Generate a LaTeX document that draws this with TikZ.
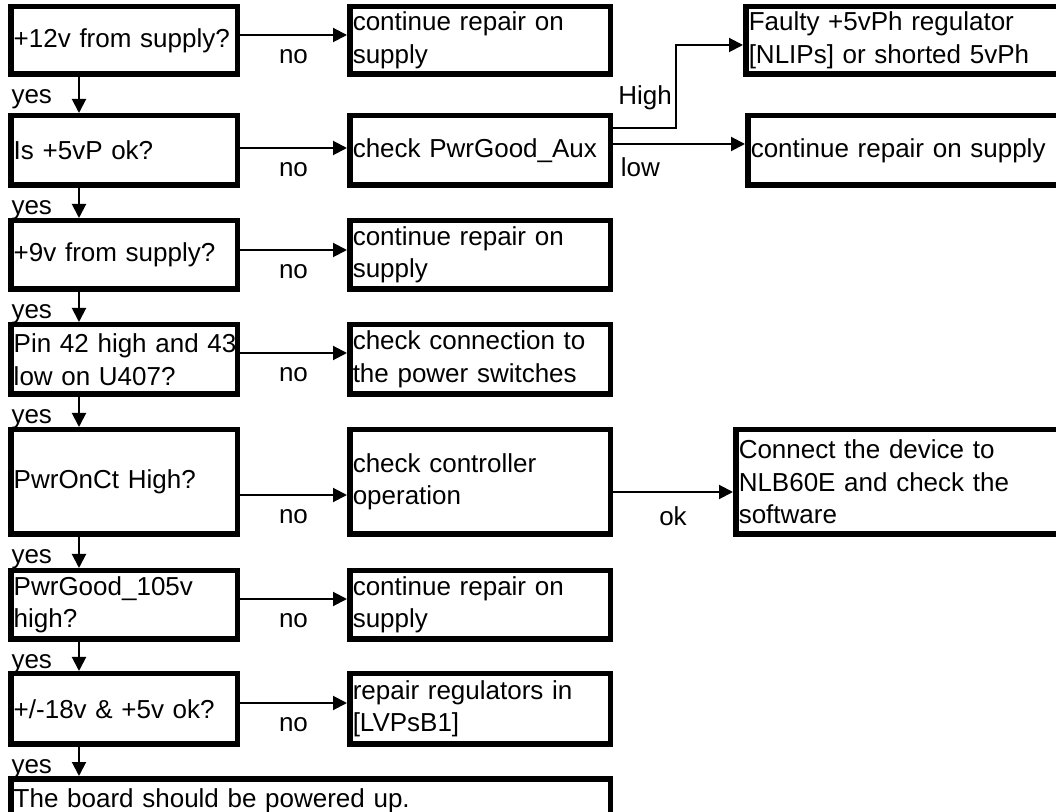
\documentclass[tikz,border=0pt]{standalone}
\usepackage{fontspec}
\setmainfont{Liberation Sans}
\usetikzlibrary{arrows.meta}

\tikzset{
    box/.style={rectangle, draw=black, line width=2.75pt, inner xsep=1.5pt, inner ysep=1pt, align=left, font=\fontsize{13}{16.25}\selectfont},
    lcol/.style={box, text width=110.25pt},
    mcol/.style={box, text width=127.25pt},
    rcol/.style={box, text width=169pt},
    arr/.style={line width=1pt, -{Triangle[length=7pt, width=7pt]}},
    lbl/.style={inner sep=0pt, font=\fontsize{13}{16.25}\selectfont},
    nolbl/.style={lbl, midway, below=7pt},
    yeslbl/.style={lbl, pos=0, anchor=north east, xshift=-13pt, yshift=-6pt}
}

\begin{document}
\begin{tikzpicture}[x=0.5pt, y=-0.5pt]
    \useasboundingbox (0,0) rectangle (1056,812);
    \clip (0,0) rectangle (1056,812);

    % questions
    \node[lcol, minimum height=33.75pt] (L1) at (124, 40.5) {\mbox{+12v from supply?}};
    \node[lcol, minimum height=34.75pt] (L2) at (124,150.5) {Is +5vP ok?};
    \node[lcol, minimum height=34.25pt] (L3) at (124,255)   {+9v from supply?};
    \node[lcol, minimum height=34.75pt] (L4) at (124,359.5) {\mbox{Pin 42 high and 43}\\low on U407?};
    \node[lcol, minimum height=52.25pt] (L5) at (124,482)   {PwrOnCt High?};
    \node[lcol, minimum height=34.25pt] (L6) at (124,605)   {PwrGood\_105v\\high?};
    \node[lcol, minimum height=35.25pt] (L7) at (124,709)   {+/-18v \& +5v ok?};
    \node[box, text width=296.75pt, minimum height=22.25pt] (L8) at (310.5,801) {The board should be powered up.};

    % actions
    \node[mcol, minimum height=33.75pt] (M1) at (480, 40.5) {continue repair on\\supply};
    \node[mcol, minimum height=34.75pt] (M2) at (480,150.5) {check PwrGood\_Aux};
    \node[mcol, minimum height=34.25pt] (M3) at (480,255)   {continue repair on\\supply};
    \node[mcol, minimum height=34.75pt] (M4) at (480,359.5) {check connection to\\the power switches};
    \node[mcol, minimum height=52.25pt] (M5) at (480,482)   {check controller\\operation};
    \node[mcol, minimum height=34.25pt] (M6) at (480,605)   {continue repair on\\supply};
    \node[mcol, minimum height=35.25pt] (M7) at (480,709)   {repair regulators in\\{}[LVPsB1]};

    \node[rcol, minimum height=33.75pt] (R1) at (917.75, 40.5) {Faulty +5vPh regulator\\{}[NLIPs] or shorted 5vPh};
    \node[rcol, minimum height=34.75pt] (R2) at (919.75,150.5) {continue repair on supply};
    \node[rcol, minimum height=52.25pt] (R5) at (907.75,482)   {Connect the device to\\NLB60E and check the\\software};

    % yes
    \path[arr] ([xshift=-22.5pt]L1.south) edge node[yeslbl] {yes} ([xshift=-22.5pt]L2.north);
    \path[arr] ([xshift=-22.5pt]L2.south) edge node[yeslbl] {yes} ([xshift=-22.5pt]L3.north);
    \path[arr] ([xshift=-22.5pt]L3.south) edge node[yeslbl] {yes} ([xshift=-22.5pt]L4.north);
    \path[arr] ([xshift=-22.5pt]L4.south) edge node[yeslbl] {yes} ([xshift=-22.5pt]L5.north);
    \path[arr] ([xshift=-22.5pt]L5.south) edge node[yeslbl] {yes} ([xshift=-22.5pt]L6.north);
    \path[arr] ([xshift=-22.5pt]L6.south) edge node[yeslbl] {yes} ([xshift=-22.5pt]L7.north);
    \path[arr] ([xshift=-22.5pt]L7.south) edge node[yeslbl] {yes} ([xshift=-22.5pt]L7.south |- L8.north);

    % no
    \path[arr] ([yshift=2.75pt]L1.east) edge node[nolbl] {no} ([yshift=2.75pt]M1.west);
    \path[arr] ([yshift=1.25pt]L2.east) edge node[nolbl] {no} ([yshift=1.25pt]M2.west);
    \path[arr] ([yshift=2.5pt]L3.east)  edge node[nolbl] {no} ([yshift=2.5pt]M3.west);
    \path[arr] ([yshift=3.25pt]L4.east) edge node[nolbl] {no} ([yshift=3.25pt]M4.west);
    \path[arr] ([yshift=-6.5pt]L5.east) edge node[nolbl] {no} ([yshift=-6.5pt]M5.west);
    \path[arr] ([yshift=3pt]L6.east)    edge node[nolbl] {no} ([yshift=3pt]M6.west);
    \path[arr] ([yshift=3pt]L7.east)    edge node[nolbl] {no} ([yshift=3pt]M7.west);

    % PwrGood_Aux and controller
    \draw[arr] ([yshift=11.25pt]M2.east) -- ++(31.4pt,0)
        node[lbl, anchor=base east, xshift=-1.5pt, yshift=11.5pt] {High} |- ([yshift=-2.25pt]R1.west);
    \path[arr] ([yshift=3.25pt]M2.east) edge node[lbl, pos=0, anchor=north west, xshift=3.4pt, yshift=-6.5pt] {low} ([yshift=3.25pt]R2.west);
    \path[arr] ([yshift=-5pt]M5.east) edge node[nolbl] {ok} ([yshift=-5pt]R5.west);
\end{tikzpicture}
\end{document}
